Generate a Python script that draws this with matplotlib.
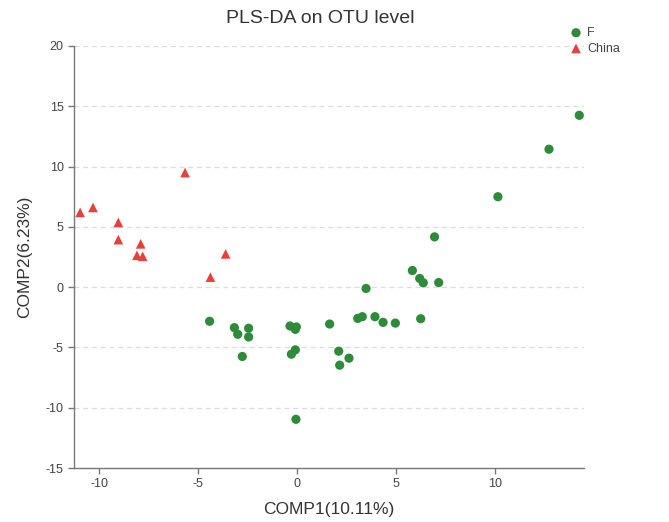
import matplotlib
matplotlib.use("Agg")
import matplotlib.pyplot as plt

plt.rcParams['font.family'] = ['Liberation Sans', 'DejaVu Sans']
plt.rcParams['axes.unicode_minus'] = False

# group F (green circles)
f_x = [-4.43, -3.18, -3.01, -2.46, -2.46, -2.78, -0.37, -0.05, -0.10, -0.10, -0.30,
       -0.07, 1.63, 2.09, 2.14, 2.61, 3.05, 3.28, 3.47, 3.92, 4.33, 4.95,
       6.23, 6.36, 6.18, 5.81, 6.93, 7.14, 10.13, 12.71, 14.24]
f_y = [-2.83, -3.36, -3.91, -3.41, -4.13, -5.75, -3.22, -3.30, -3.50, -5.20, -5.56,
       -10.96, -3.06, -5.31, -6.47, -5.89, -2.59, -2.45, -0.11, -2.45, -2.92, -2.98,
       -2.62, 0.36, 0.72, 1.38, 4.17, 0.38, 7.50, 11.44, 14.25]

# group China (red triangles)
china_x = [-10.97, -10.32, -9.04, -9.04, -7.91, -8.10, -7.81, -5.67, -4.39, -3.62]
china_y = [6.20, 6.61, 5.37, 3.94, 3.59, 2.64, 2.56, 9.50, 0.83, 2.76]

x_ticks = [-10, -5, 0, 5, 10]
y_ticks = [-15, -10, -5, 0, 5, 10, 15, 20]

fig = plt.figure(figsize=(6.69, 5.22), dpi=100)
ax = fig.add_axes([0.1106, 0.1034, 0.7624, 0.8085])

# dashed horizontal grid
for yv in y_ticks[1:]:
    ax.axhline(yv, color='#dcdcdc', lw=0.9, ls=(0, (4, 3)), zorder=0)

ax.scatter(f_x, f_y, s=44, marker='o', color='#2e8b39', edgecolors='none', label='F', zorder=3)
ax.scatter(china_x, china_y, s=48, marker='^', color='#e5403a', edgecolors='none', label='China', zorder=3)

ax.set_xlim(-11.28, 14.48)
ax.set_ylim(-15, 20)
ax.set_xticks(x_ticks)
ax.set_yticks(y_ticks)

for side in ['top', 'right']:
    ax.spines[side].set_visible(False)
for side in ['left', 'bottom']:
    ax.spines[side].set_color('#777777')
    ax.spines[side].set_linewidth(1.0)
ax.tick_params(colors='#777777', labelcolor='#444444', labelsize=9, length=4, width=1)

ax.set_xlabel('COMP1(10.11%)', fontsize=12.5, color='#333333', labelpad=8)
ax.set_ylabel('COMP2(6.23%)', fontsize=12.5, color='#333333', labelpad=10)
fig.text(0.478, 0.965, 'PLS-DA on OTU level', ha='center', va='center', fontsize=14, color='#333333')

ax.legend(loc='upper left', bbox_to_anchor=(0.833, 0.965), bbox_transform=fig.transFigure,
          frameon=False, fontsize=9, handletextpad=0.1, labelspacing=0.3,
          markerscale=1.0, labelcolor='#444444', borderpad=0.2, handlelength=1.6)

fig.savefig('out.png', dpi=100)
